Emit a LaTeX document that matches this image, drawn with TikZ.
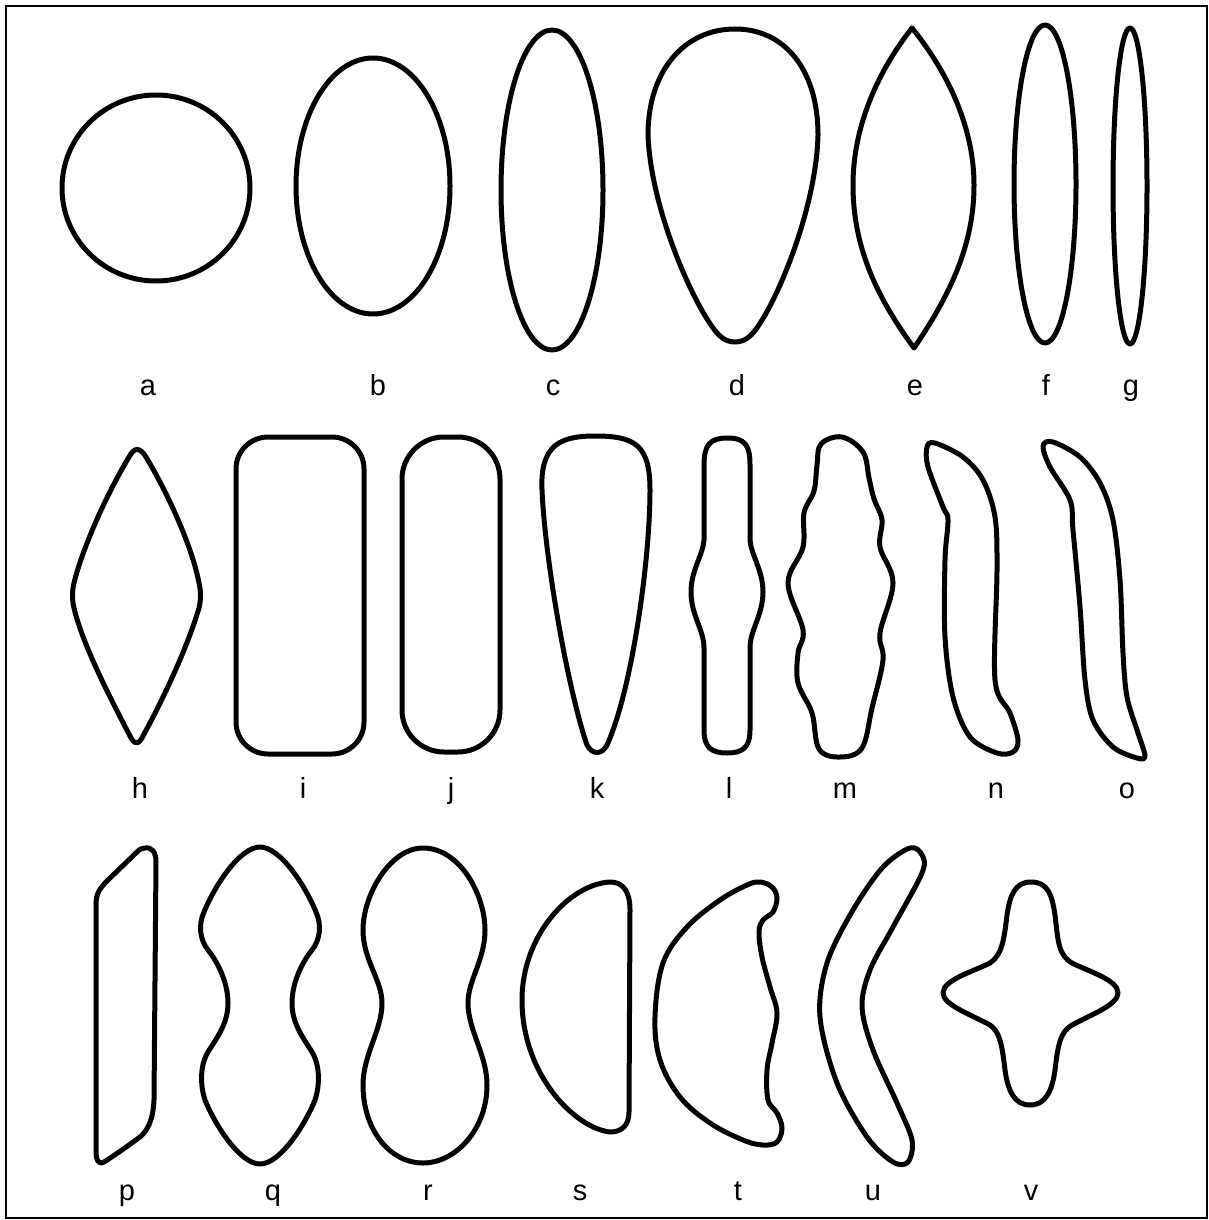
\documentclass[tikz,border=0pt]{standalone}
\usepackage{fontspec}
\setmainfont{Liberation Sans}
\begin{document}
\begin{tikzpicture}[x=0.5pt,y=-0.5pt,
  outline/.style={line width=2.5pt,line join=round},
  lbl/.style={font=\fontsize{14.5}{16}\selectfont,anchor=base,inner sep=0pt}]
\useasboundingbox (0,0) rectangle (1209,1220);
\draw[line width=1.2pt] (6,6) rectangle (1207,1218);

% ---------- row 1 ----------
\draw[outline] (156,188) circle[x radius=94,y radius=93];
\draw[outline] (373,186) circle[x radius=77,y radius=128];
\draw[outline] (552,190) circle[x radius=51,y radius=160];
\draw[outline] (735,29) .. controls (785,29) and (818,70) .. (818,135)
  .. controls (816,215) and (770,318) .. (750,336)
  .. controls (742,344) and (728,344) .. (720,336)
  .. controls (700,318) and (651,215) .. (648,135)
  .. controls (648,70) and (685,29) .. (735,29) -- cycle;
\draw[outline] (912,28) .. controls (950,75) and (974,130) .. (974,185)
  .. controls (974,245) and (950,295) .. (914,348)
  .. controls (875,295) and (853,245) .. (853,185)
  .. controls (853,130) and (875,75) .. (912,28) -- cycle;
\draw[outline] (1045,184) circle[x radius=31,y radius=159];
\draw[outline] (1130,186) circle[x radius=17,y radius=158];

\node[lbl] (la) at (148,395) {a};
\node[lbl] (lb) at (378,395) {b};
\node[lbl] (lc) at (553,395) {c};
\node[lbl] (ld) at (737,395) {d};
\node[lbl] (le) at (915,395) {e};
\node[lbl] (lf) at (1046,395) {f};
\node[lbl] (lg) at (1131,395) {g};

% ---------- row 2 ----------
\draw[outline] (129,457) .. controls (134,447) and (140,447) .. (146,457)
  .. controls (170,497) and (193,550) .. (199,583)
  .. controls (201,591) and (201,600) .. (199,608)
  .. controls (189,642) and (168,690) .. (143,736)
  .. controls (139,745) and (134,745) .. (130,736)
  .. controls (106,690) and (82,642) .. (74,608)
  .. controls (72,600) and (72,591) .. (74,583)
  .. controls (82,550) and (105,497) .. (129,457) -- cycle;
\draw[outline,rounded corners=16pt] (236,437) rectangle (364,754);
\draw[outline,rounded corners=21pt] (402,437) rectangle (500,752);
\draw[outline] (595,436) .. controls (635,436) and (650,445) .. (650,490)
  .. controls (650,560) and (632,690) .. (607,745)
  .. controls (602,755) and (592,755) .. (587,745)
  .. controls (568,690) and (545,560) .. (542,490)
  .. controls (540,445) and (560,436) .. (595,436) -- cycle;
\draw[outline] (727,438) .. controls (745,438) and (750,445) .. (750,465)
  -- (750,540) .. controls (751,555) and (763,570) .. (763,592)
  .. controls (763,615) and (750,630) .. (750,648)
  -- (750,730) .. controls (750,748) and (742,753) .. (727,753)
  .. controls (712,753) and (704,748) .. (704,730)
  -- (704,648) .. controls (704,630) and (691,615) .. (691,592)
  .. controls (691,570) and (703,555) .. (704,540)
  -- (704,465) .. controls (704,445) and (710,438) .. (727,438) -- cycle;
\draw[outline] plot[smooth cycle,tension=0.6] coordinates {
  (842,437) (863,452) (869,478) (874,499) (882,520) (880,547) (893,583)
  (880,633) (883,660) (872,708) (862,748) (840,757) (819,749) (812,713)
  (798,683) (798,653) (803,630) (788,583) (803,547) (804,513) (814,491)
  (817,465) (821,444)};
\draw[outline] plot[smooth cycle,tension=0.55] coordinates {
  (927,447) (935,443) (963,457) (983,480) (995,517) (997,570) (995,680)
  (1010,713) (1018,740) (1013,752) (997,753) (970,737) (953,697) (945,637)
  (945,560) (948,520) (943,507) (928,467)};
\draw[outline] plot[smooth cycle,tension=0.55] coordinates {
  (1043,446) (1053,442) (1080,457) (1100,483) (1113,520) (1120,580)
  (1123,653) (1127,697) (1138,733) (1145,756) (1137,758) (1113,747)
  (1093,720) (1085,680) (1080,607) (1073,530) (1070,500) (1050,467)};

\node[lbl] (lh) at (140,798) {h};
\node[lbl] (li) at (303,798) {i};
\node[lbl] (lj) at (451,798) {j};
\node[lbl] (lk) at (597,798) {k};
\node[lbl] (ll) at (729,798) {l};
\node[lbl] (lm) at (845,798) {m};
\node[lbl] (ln) at (996,798) {n};
\node[lbl] (lo) at (1127,798) {o};

% ---------- row 3 ----------
% p
\draw[outline] (145,848) .. controls (152,847) and (156,852) .. (156,862)
  -- (154,1100) .. controls (153,1120) and (148,1130) .. (140,1137)
  .. controls (125,1148) and (112,1157) .. (104,1162)
  .. controls (98,1165) and (96,1160) .. (96,1150)
  -- (96,905) .. controls (96,893) and (100,888) .. (108,880)
  -- (137,852) .. controls (140,849) and (142,848) .. (145,848) -- cycle;
% q
\draw[outline] (260,847) .. controls (280,847) and (305,885) .. (316,912)
  .. controls (322,925) and (320,940) .. (312,950)
  .. controls (300,965) and (292,985) .. (292,1003)
  .. controls (292,1025) and (305,1040) .. (312,1052)
  .. controls (320,1065) and (320,1085) .. (315,1100)
  .. controls (305,1125) and (280,1164) .. (260,1164)
  .. controls (240,1164) and (215,1125) .. (205,1100)
  .. controls (200,1085) and (200,1065) .. (208,1052)
  .. controls (215,1040) and (228,1025) .. (228,1003)
  .. controls (228,985) and (220,965) .. (208,950)
  .. controls (200,940) and (198,925) .. (204,912)
  .. controls (215,885) and (240,847) .. (260,847) -- cycle;
% r
\draw[outline] (423,848) .. controls (460,848) and (485,895) .. (485,930)
  .. controls (485,960) and (468,980) .. (468,1003)
  .. controls (468,1030) and (487,1055) .. (487,1085)
  .. controls (487,1130) and (455,1163) .. (423,1163)
  .. controls (390,1163) and (363,1130) .. (363,1085)
  .. controls (363,1055) and (382,1030) .. (382,1003)
  .. controls (382,980) and (363,960) .. (363,930)
  .. controls (363,895) and (390,848) .. (423,848) -- cycle;
% s
\draw[outline] (610,882) .. controls (622,882) and (630,890) .. (630,910)
  -- (629,1112) .. controls (629,1125) and (622,1132) .. (610,1132)
  .. controls (575,1128) and (522,1075) .. (522,1000)
  .. controls (522,935) and (570,884) .. (610,882) -- cycle;
% t
\draw[outline] plot[smooth cycle,tension=0.6] coordinates {
  (760,882) (772,887) (777,898) (773,912) (763,920) (759,932) (762,957)
  (770,987) (777,1013) (772,1043) (767,1070) (768,1100) (777,1113)
  (782,1128) (777,1142) (763,1145) (743,1140) (710,1123) (680,1097)
  (660,1060) (655,1017) (663,963) (687,927) (720,900) (747,885)};
% u
\draw[outline] plot[smooth cycle,tension=0.55] coordinates {
  (910,848) (922,855) (922,873) (893,927) (870,970) (862,1007) (873,1050)
  (897,1103) (912,1140) (908,1162) (893,1162) (867,1137) (837,1083)
  (820,1017) (827,963) (853,910) (883,867)};
% v
\draw[outline] (1031,882) .. controls (1048,882) and (1052,895) .. (1055,915)
  .. controls (1058,940) and (1058,955) .. (1072,963)
  .. controls (1090,972) and (1118,980) .. (1118,993)
  .. controls (1118,1005) and (1090,1015) .. (1072,1025)
  .. controls (1060,1032) and (1058,1045) .. (1055,1070)
  .. controls (1052,1092) and (1045,1105) .. (1030,1105)
  .. controls (1015,1105) and (1008,1092) .. (1005,1070)
  .. controls (1002,1045) and (1000,1032) .. (990,1025)
  .. controls (972,1015) and (943,1005) .. (943,993)
  .. controls (943,980) and (972,972) .. (990,963)
  .. controls (1002,955) and (1004,940) .. (1007,915)
  .. controls (1010,895) and (1015,882) .. (1031,882) -- cycle;

\node[lbl] (lp) at (127,1200) {p};
\node[lbl] (lq) at (273,1200) {q};
\node[lbl] (lr) at (428,1200) {r};
\node[lbl] (ls) at (580,1200) {s};
\node[lbl] (lt) at (738,1200) {t};
\node[lbl] (lu) at (873,1200) {u};
\node[lbl] (lv) at (1031,1200) {v};
\end{tikzpicture}
\end{document}
